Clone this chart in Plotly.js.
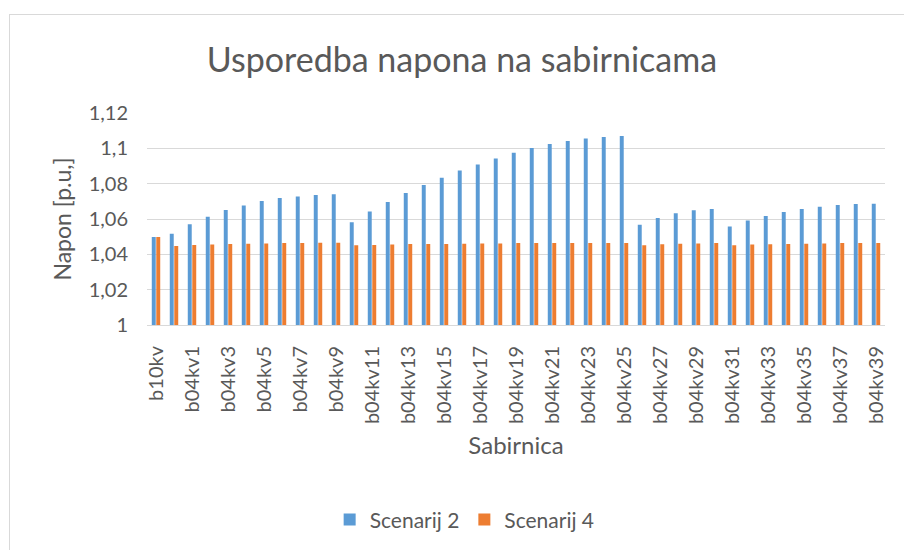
<!DOCTYPE html>
<html><head><meta charset="utf-8">
<script src="https://cdn.plot.ly/plotly-3.0.1.min.js"></script>
<style>
html,body{margin:0;padding:0;background:#fff;}
#wrap{position:relative;width:904px;height:550px;overflow:hidden;}
#frame{position:absolute;left:9px;top:14px;width:904px;height:545px;border:1px solid #d9d9d9;box-sizing:border-box;pointer-events:none;}
#chart{position:absolute;left:0;top:0;width:904px;height:550px;}
</style>
</head><body>
<div id="wrap"><div id="chart"></div><div id="frame"></div></div>
<script>
const categories = ["b10kv","b04kv0","b04kv1","b04kv2","b04kv3","b04kv4","b04kv5","b04kv6","b04kv7","b04kv8","b04kv9","b04kv10","b04kv11","b04kv12","b04kv13","b04kv14","b04kv15","b04kv16","b04kv17","b04kv18","b04kv19","b04kv20","b04kv21","b04kv22","b04kv23","b04kv24","b04kv25","b04kv26","b04kv27","b04kv28","b04kv29","b04kv30","b04kv31","b04kv32","b04kv33","b04kv34","b04kv35","b04kv36","b04kv37","b04kv38","b04kv39"];
const scenarij2 = [1.0498,1.0517,1.0570,1.0613,1.0651,1.0677,1.0702,1.0719,1.0728,1.0736,1.0740,1.0581,1.0642,1.0696,1.0747,1.0792,1.0834,1.0874,1.0909,1.0943,1.0975,1.1002,1.1025,1.1042,1.1055,1.1064,1.1070,1.0568,1.0606,1.0632,1.0649,1.0657,1.0557,1.0591,1.0617,1.0640,1.0657,1.0670,1.0679,1.0685,1.0687];
const scenarij4 = [1.0498,1.0447,1.0453,1.0455,1.0458,1.0460,1.0462,1.0464,1.0464,1.0466,1.0466,1.0451,1.0453,1.0455,1.0458,1.0458,1.0458,1.0460,1.0462,1.0462,1.0464,1.0464,1.0464,1.0464,1.0464,1.0464,1.0464,1.0451,1.0457,1.0460,1.0462,1.0464,1.0451,1.0455,1.0457,1.0458,1.0460,1.0462,1.0464,1.0464,1.0464];
const yTickVals = [1,1.02,1.04,1.06,1.08,1.1,1.12];
const yTickText = ["1","1,02","1,04","1,06","1,08","1,1","1,12"];
const xTickVals = categories.filter((c,i)=>i%2===0);

const FONT = "Lato, 'Open Sans', sans-serif";
const data = [
  {type:'bar', name:'Scenarij 2', x:categories, y:scenarij2, marker:{color:'#5B9BD5'}},
  {type:'bar', name:'Scenarij 4', x:categories, y:scenarij4, marker:{color:'#ED7D31'}}
];
const layout = {
  width:904, height:550,
  paper_bgcolor:'rgba(0,0,0,0)', plot_bgcolor:'#fff',
  margin:{l:147,r:19,t:113,b:225},
  separators:',.',
  font:{family:FONT, color:'#595959', size:16},
  title:{text:'Usporedba napona na sabirnicama', font:{family:FONT, size:34, color:'#595959'}, xref:'container', x:0.511, xanchor:'center', yref:'container', y:0.89, yanchor:'middle'},
  barmode:'group', bargap:0.5, bargroupgap:0.12,
  showlegend:true,
  legend:{orientation:'h', xref:'container', x:0.514, xanchor:'center', yref:'container', y:0.055, yanchor:'middle', font:{size:21, color:'#595959'}, itemwidth:30, tracegroupgap:10},
  xaxis:{type:'category', tickvals:xTickVals, ticktext:xTickVals, tickangle:-90, tickfont:{size:20, color:'#595959'},
         showgrid:false, showline:true, linecolor:'#d9d9d9', linewidth:1, ticks:'', ticklen:0, ticklabelstandoff:12,
         title:{text:'Sabirnica', font:{size:24, color:'#595959'}, standoff:14}},
  yaxis:{range:[1,1.12], tickvals:yTickVals, ticktext:yTickText, tickfont:{size:20, color:'#595959'},
         showgrid:true, gridcolor:'#d9d9d9', gridwidth:1, zeroline:false, showline:false, ticks:'', ticklabelstandoff:18,
         title:{text:'Napon [p.u,]', font:{size:23, color:'#595959'}, standoff:10}}
};
Plotly.newPlot('chart', data, layout, {displayModeBar:false, staticPlot:true});
</script>
</body></html>
